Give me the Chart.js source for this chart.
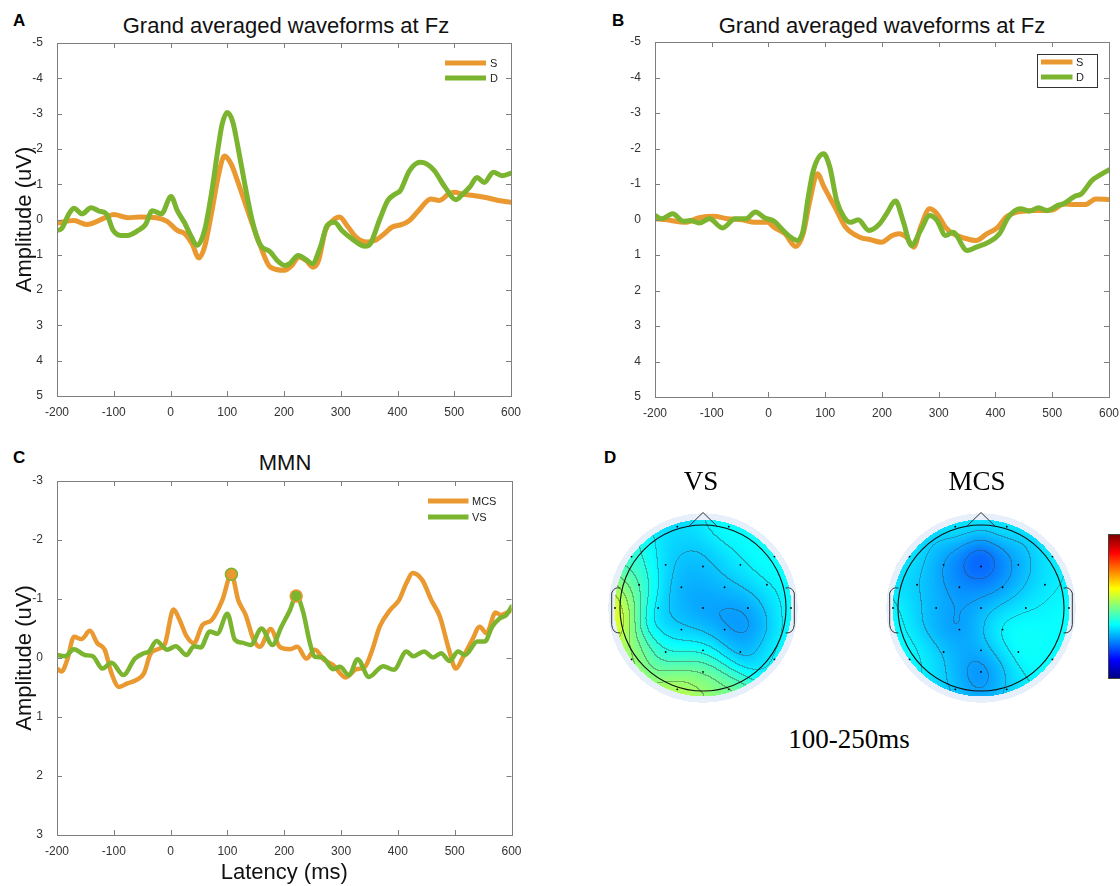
<!DOCTYPE html>
<html><head><meta charset="utf-8">
<script src="https://cdn.jsdelivr.net/npm/chart.js@4.4.1/dist/chart.umd.min.js"></script>
<style>
body{margin:0;background:#fff;width:1120px;height:886px;overflow:hidden;position:relative;font-family:"Liberation Sans",Arial,sans-serif;}
.pane{position:absolute;}
.lbl{position:absolute;font-weight:bold;font-size:17px;line-height:20px;color:#000;}
.ttl{position:absolute;font-size:22px;line-height:26px;color:#111;transform:translateX(-50%);white-space:nowrap;}
.serif{position:absolute;font-family:"Liberation Serif","Times New Roman",serif;font-size:27px;line-height:30px;color:#000;transform:translateX(-50%);white-space:nowrap;}
#cbar{position:absolute;left:1108px;top:534px;width:14px;height:143px;border:1px solid #444;
background:linear-gradient(to bottom,#800000 0%,#ff0000 12.5%,#ffff00 37.5%,#00ffff 62.5%,#0000ff 87.5%,#000080 100%);}
</style></head>
<body>
<div class="lbl" style="left:13px;top:11px">A</div>
<div class="lbl" style="left:612px;top:11px">B</div>
<div class="lbl" style="left:13px;top:448px">C</div>
<div class="lbl" style="left:604px;top:448px">D</div>
<div class="ttl" style="left:286px;top:13px">Grand averaged waveforms at Fz</div>
<div class="ttl" style="left:882px;top:13px">Grand averaged waveforms at Fz</div>
<div class="ttl" style="left:285px;top:450px">MMN</div>
<div class="pane" style="left:0;top:0"><canvas id="cA" width="560" height="430"></canvas></div>
<div class="pane" style="left:560px;top:0"><canvas id="cB" width="560" height="430"></canvas></div>
<div class="pane" style="left:0;top:430px"><canvas id="cC" width="560" height="456"></canvas></div>
<div class="pane" style="left:588px;top:493px"><canvas id="dVS" width="230" height="230"></canvas></div>
<div class="pane" style="left:866px;top:493px"><canvas id="dMCS" width="230" height="230"></canvas></div>
<div class="serif" style="left:701px;top:466px">VS</div>
<div class="serif" style="left:977px;top:466px">MCS</div>
<div class="serif" style="left:849px;top:724px">100-250ms</div>
<div id="cbar"></div>
<script>
// ---------- data ----------
const xTickVals = [-200,-100,0,100,200,300,400,500,600];
const yTickValsAB = [-5,-4,-3,-2,-1,0,1,2,3,4,5];
const yTickValsC = [-3,-2,-1,0,1,2,3];

// Panel A
const aTimeS = [-200,-170,-148,-113,-100,-75,-54,-25,-6,12,25,38,50,60,72,85,95,107,119,132,144,157,176,201,214,226,239,251,261,273,286,298,311,327,346,361,377,390,408,421,437,459,474,490,500,515,534,553,578,600];
const aS = [0.1,0.03,0.14,-0.07,-0.14,-0.05,-0.07,-0.05,0.05,0.31,0.4,0.69,1.09,0.78,-0.16,-1.29,-1.8,-1.57,-1.05,-0.44,0.12,0.69,1.35,1.44,1.3,1.06,1.16,1.35,1.16,0.31,0.03,-0.07,0.17,0.5,0.64,0.59,0.4,0.22,0.14,0.03,-0.25,-0.58,-0.54,-0.72,-0.77,-0.72,-0.68,-0.63,-0.54,-0.49];
const aTimeD = [-200,-192,-179,-170,-156,-140,-126,-113,-101,-88,-76,-57,-44,-32,-16,1,12,25,34,47,60,72,85,91,100,110,119,132,144,157,176,188,201,210,225,239,250,264,276,289,302,320,343,352,368,383,396,405,421,440,452,465,484,503,515,528,540,553,569,584,600];
const aD = [0.31,0.26,-0.16,-0.32,-0.16,-0.33,-0.24,-0.16,0.31,0.45,0.45,0.31,0.14,-0.25,-0.16,-0.65,-0.25,0.1,0.4,0.73,0.31,-0.72,-2.14,-2.7,-3.03,-2.75,-2.04,-0.91,0.03,0.69,0.92,1.16,1.3,1.25,1.02,1.14,1.25,0.78,0.17,0.08,0.31,0.55,0.76,0.69,0.03,-0.54,-0.72,-0.82,-1.38,-1.62,-1.57,-1.38,-0.91,-0.56,-0.72,-0.93,-1.19,-1.05,-1.34,-1.24,-1.31];

// Panel B
const bTimeS = [-200,-179,-147,-122,-97,-72,-46,-24,-2,10,29,48,61,73,86,98,117,136,161,180,199,218,230,243,256,268,284,297,312,325,344,366,385,404,419,438,463,501,520,539,558,577,600];
const bS = [-0.02,0.01,0.08,-0.05,-0.09,-0.02,0.01,0.08,0.08,0.22,0.4,0.76,0.4,-0.54,-1.29,-0.91,-0.35,0.22,0.5,0.57,0.64,0.45,0.4,0.5,0.78,0.22,-0.3,-0.16,0.22,0.4,0.52,0.59,0.4,0.22,-0.07,-0.21,-0.25,-0.27,-0.44,-0.42,-0.42,-0.58,-0.56];
const bTimeD = [-200,-188,-169,-150,-138,-122,-104,-81,-59,-40,-23,-6,10,26,39,51,61,70,79,97,108,120,133,145,158,177,196,208,224,237,252,268,284,297,312,325,350,366,388,407,423,444,460,476,491,510,520,539,551,570,583,600];
const bD = [-0.11,-0.02,-0.16,0.05,0.03,0.1,-0.02,0.24,-0.02,-0.02,-0.21,-0.04,0.05,0.31,0.5,0.59,0.31,-0.63,-1.38,-1.85,-1.48,-0.54,-0.07,0.08,0.01,0.31,0.12,-0.16,-0.52,0.03,0.73,0.31,-0.11,0.03,0.45,0.36,0.87,0.78,0.64,0.4,-0.07,-0.3,-0.24,-0.33,-0.25,-0.4,-0.44,-0.65,-0.72,-1.1,-1.24,-1.4];

// Panel C (MMN)
const cTimeM = [-200,-192,-182,-170,-157,-142,-129,-116,-104,-91,-76,-60,-47,-35,-22,-10,5,16,28,41,56,72,91,107,119,132,146,157,176,192,210,223,239,254,270,286,308,327,342,355,368,387,402,415,426,443,459,474,490,502,515,531,544,556,572,581,600];
const cMCS = [0.18,0.23,0.03,-0.36,-0.32,-0.46,-0.25,-0.14,0.26,0.49,0.43,0.37,0.26,-0.08,-0.15,-0.24,-0.82,-0.64,-0.37,-0.25,-0.56,-0.64,-0.98,-1.42,-0.98,-0.73,-0.31,-0.19,-0.49,-0.19,-0.15,-0.19,0.01,-0.14,0.03,0.12,0.33,0.19,0.15,-0.14,-0.53,-0.82,-0.98,-1.27,-1.44,-1.32,-0.98,-0.7,-0.14,0.18,-0.02,-0.31,-0.53,-0.42,-0.77,-0.73,-0.81];
const cTimeV = [-200,-186,-170,-151,-137,-120,-104,-83,-63,-47,-38,-25,-6,9,28,41,53,69,82,100,113,126,141,160,179,195,210,221,233,245,254,267,286,298,314,329,349,374,393,415,427,446,462,476,491,506,518,540,553,566,579,591,600];
const cVS = [-0.05,-0.03,-0.15,-0.05,-0.03,0.18,0.08,0.29,0.01,-0.08,-0.11,-0.29,-0.14,-0.2,-0.05,-0.2,-0.18,-0.45,-0.41,-0.75,-0.31,-0.26,-0.22,-0.5,-0.22,-0.53,-0.81,-1.05,-0.79,-0.26,-0.02,-0.01,0.19,0.15,0.29,0.02,0.32,0.14,0.2,-0.11,-0.03,-0.11,-0.01,-0.08,0.05,-0.11,-0.05,-0.28,-0.28,-0.53,-0.67,-0.73,-0.87];
const peakT = [107,221];
const peakV = [-1.42,-1.05];

// Panel D (topographies, 100-250 ms; values as colormap fraction 0..1)
const elecNames = ['Fp1','Fp2','F7','F3','Fz','F4','F8','FT7','FC3','FC4','FT8','T7','C3','Cz','C4','T8','CP3','CP4','P7','P3','Pz','P4','P8','O1','Oz','O2'];
const elecX = [-0.31,0.31,-0.86,-0.45,0,0.45,0.86,-0.77,-0.26,0.26,0.77,-1.06,-0.54,0,0.54,1.06,-0.26,0.26,-0.86,-0.45,0,0.45,0.86,-0.31,0,0.31];
const elecY = [0.98,0.98,0.62,0.52,0.5,0.52,0.62,0.28,0.25,0.25,0.28,0,0,0,0,0,-0.26,-0.26,-0.62,-0.53,-0.51,-0.53,-0.62,-0.98,-0.77,-0.98];
const vsVals = [0.34,0.38,0.42,0.32,0.31,0.37,0.39,0.48,0.28,0.30,0.37,0.64,0.32,0.27,0.26,0.38,0.31,0.26,0.55,0.40,0.38,0.27,0.38,0.57,0.53,0.50];
const mcsVals = [0.36,0.36,0.37,0.27,0.16,0.28,0.37,0.32,0.26,0.27,0.35,0.38,0.31,0.31,0.37,0.38,0.23,0.40,0.38,0.34,0.32,0.39,0.37,0.34,0.19,0.35];

// ---------- styling ----------
const ORANGE = '#E9992F';
const GREEN = '#7BB42F';
const FONT = '"Liberation Sans", Arial, sans-serif';
const AXIS = '#7f7f7f';

function pts(t, v){ return t.map((x,i)=>({x:x, y:v[i]})); }

const boxPlugin = {
  id: 'mbox',
  afterDatasetsDraw(chart, args, opts){
    const {ctx, chartArea:a, scales:{x, y}} = chart;
    ctx.save();
    ctx.strokeStyle = AXIS; ctx.lineWidth = 1;
    ctx.strokeRect(Math.round(a.left)+0.5, Math.round(a.top)+0.5, Math.round(a.right-a.left), Math.round(a.bottom-a.top));
    const L = 5;
    ctx.beginPath();
    x.ticks.forEach(t=>{ const p = Math.round(x.getPixelForValue(t.value))+0.5;
      ctx.moveTo(p,a.bottom); ctx.lineTo(p,a.bottom-L); ctx.moveTo(p,a.top); ctx.lineTo(p,a.top+L); });
    y.ticks.forEach(t=>{ const p = Math.round(y.getPixelForValue(t.value))+0.5;
      ctx.moveTo(a.left,p); ctx.lineTo(a.left+L,p); ctx.moveTo(a.right,p); ctx.lineTo(a.right-L,p); });
    ctx.stroke();
    const lg = opts && opts.legend;
    if (lg){
      if (lg.box){
        ctx.fillStyle = '#fff'; ctx.strokeStyle = '#333'; ctx.lineWidth = 1;
        const bl = Math.round(a.right-lg.box[0])+0.5, br = Math.round(a.right-lg.box[1])+0.5;
        const bt = Math.round(a.top+lg.box[2])+0.5, bb = Math.round(a.top+lg.box[3])+0.5;
        ctx.fillRect(bl,bt,br-bl,bb-bt); ctx.strokeRect(bl,bt,br-bl,bb-bt);
      }
      ctx.font = '11px ' + FONT; ctx.textBaseline = 'middle'; ctx.textAlign = 'left';
      [0,1].forEach(i=>{
        const d = chart.data.datasets[i];
        const yy = a.top + lg.y0 + i*lg.dy;
        ctx.strokeStyle = d.borderColor; ctx.lineWidth = lg.lw; ctx.lineCap = 'butt';
        ctx.beginPath(); ctx.moveTo(a.right-lg.x1, yy); ctx.lineTo(a.right-lg.x2, yy); ctx.stroke();
        ctx.fillStyle = '#222'; ctx.fillText(d.label, a.right-lg.tx, yy+1);
      });
    }
    ctx.restore();
  }
};

function lineDs(label, t, v, color, width, order){
  return {label:label, data:pts(t,v), borderColor:color, backgroundColor:color, borderWidth:width,
    pointRadius:0, cubicInterpolationMode:'monotone', fill:false, order:order, borderCapStyle:'round', borderJoinStyle:'round'};
}

function wave(id, datasets, yTicks, o){
  return new Chart(document.getElementById(id), {
    type:'line',
    data:{datasets:datasets},
    options:{
      responsive:false, animation:false, events:[],
      layout:{padding:o.pad},
      plugins:{legend:{display:false}, tooltip:{enabled:false}, title:{display:false}, mbox:{legend:o.legend}},
      scales:{
        x:{type:'linear', min:-200, max:600,
           afterBuildTicks:s=>{ s.ticks = xTickVals.map(v=>({value:v})); },
           afterFit:s=>{ s.height = o.xh; },
           grid:{display:false}, border:{display:false},
           ticks:{font:{family:FONT,size:12}, color:'#333', padding:1, maxRotation:0, autoSkip:false},
           title:{display:!!o.xTitle, text:o.xTitle||'', font:{family:FONT,size:22}, color:'#111', padding:{top:0,bottom:0}}},
        y:{type:'linear', min:yTicks[0], max:yTicks[yTicks.length-1], reverse:true,
           afterBuildTicks:s=>{ s.ticks = yTicks.map(v=>({value:v})); },
           afterFit:s=>{ s.width = 57; },
           grid:{display:false}, border:{display:false},
           ticks:{font:{family:FONT,size:12}, color:'#333', padding:6, autoSkip:false},
           title:{display:!!o.yTitle, text:o.yTitle||'', font:{family:FONT,size:22}, color:'#111', padding:{top:12,bottom:0}}}
      }
    },
    plugins:[boxPlugin]
  });
}

wave('cA', [lineDs('S', aTimeS, aS, ORANGE, 5, 2), lineDs('D', aTimeD, aD, GREEN, 5, 1)], yTickValsAB,
  {pad:{top:43,right:49,left:0,bottom:0}, xh:34, yTitle:'Amplitude (uV)',
   legend:{x1:66, x2:25, y0:20, dy:15, tx:21, lw:5}});
wave('cB', [lineDs('S', bTimeS, bS, ORANGE, 5, 2), lineDs('D', bTimeD, bD, GREEN, 5, 1)], yTickValsAB,
  {pad:{top:42,right:11,left:38,bottom:0}, xh:33,
   legend:{x1:68, x2:36.5, y0:20, dy:15, tx:33, lw:5, box:[72,12,12,45]}});
const peakDs = {label:'peaks', data:pts(peakT, peakV), showLine:false, pointRadius:6,
  pointBackgroundColor:[ORANGE, GREEN], pointBorderColor:[GREEN, ORANGE], pointBorderWidth:1.5, order:0};
wave('cC', [lineDs('MCS', cTimeM, cMCS, ORANGE, 4.5, 2), lineDs('VS', cTimeV, cVS, GREEN, 4.5, 1), peakDs], yTickValsC,
  {pad:{top:51,right:48.5,left:0,bottom:0}, xh:51, yTitle:'Amplitude (uV)', xTitle:'Latency (ms)',
   legend:{x1:83.5, x2:43, y0:20, dy:16, tx:39.5, lw:5}});

// ---------- topography ----------
function jet(t){
  const c = v=>Math.max(0,Math.min(1,v));
  return [c(Math.min(4*t-1.5,-4*t+4.5)), c(Math.min(4*t-0.5,-4*t+3.5)), c(Math.min(4*t+0.5,-4*t+2.5))];
}
const topoPlugin = {
  id:'topo',
  beforeDatasetsDraw(chart, args, opts){
    const {ctx, scales:{x, y}} = chart;
    const W = chart.width, H = chart.height;
    const vals = opts.vals;
    const img = ctx.createImageData(W, H);
    const field = new Float32Array(W*H).fill(NaN);
    const R1 = 1.065, R2 = 1.14, s2 = 2*0.23*0.23;
    for (let py=0; py<H; py++){
      const uy = y.getValueForPixel(py+0.5);
      for (let px=0; px<W; px++){
        const ux = x.getValueForPixel(px+0.5);
        const r = Math.hypot(ux,uy);
        if (r > R1) continue;
        let sw=0, sv=0;
        for (let k=0;k<elecX.length;k++){
          const dx=ux-elecX[k], dy=uy-elecY[k];
          const w=Math.exp(-(dx*dx+dy*dy)/s2)+1e-12;
          sw+=w; sv+=w*vals[k];
        }
        field[py*W+px] = sv/sw;
      }
    }
    const step = 0.04;
    for (let py=0; py<H; py++){
      const uy = y.getValueForPixel(py+0.5);
      for (let px=0; px<W; px++){
        const i = py*W+px, o = i*4;
        const ux = x.getValueForPixel(px+0.5);
        const r = Math.hypot(ux,uy);
        const v = field[i];
        if (!isNaN(v)){
          const c = jet(v);
          let R = c[0]*255*0.97+0.03*255, G = c[1]*255*0.97+0.03*255, B = c[2]*255*0.97+0.03*255;
          const lv = Math.floor(v/step);
          const vr = px+1<W ? field[i+1] : NaN, vd = py+1<H ? field[i+W] : NaN;
          if ((!isNaN(vr) && Math.floor(vr/step)!==lv) || (!isNaN(vd) && Math.floor(vd/step)!==lv)){
            R = R*0.6+25; G = G*0.6+25; B = B*0.6+25;
          }
          img.data[o]=R; img.data[o+1]=G; img.data[o+2]=B; img.data[o+3]=255;
        } else if (r <= R2){
          img.data[o]=230; img.data[o+1]=239; img.data[o+2]=250; img.data[o+3]=255;
        }
      }
    }
    ctx.putImageData(img, 0, 0);
    const cx = x.getPixelForValue(0), cy = y.getPixelForValue(0);
    const P = (u,v)=>[x.getPixelForValue(u), y.getPixelForValue(v)];
    ctx.save();
    ctx.strokeStyle = '#111'; ctx.lineWidth = 1.1;
    ctx.beginPath(); ctx.arc(cx, cy, x.getPixelForValue(1)-cx, 0, Math.PI*2); ctx.stroke();
    ctx.strokeStyle = '#333'; ctx.lineWidth = 1;
    ctx.beginPath();
    let p = P(-0.17,0.985); ctx.moveTo(p[0],p[1]);
    p = P(0,1.15); ctx.lineTo(p[0],p[1]);
    p = P(0.17,0.985); ctx.lineTo(p[0],p[1]);
    ctx.stroke();
    [-1,1].forEach(sd=>{
      ctx.beginPath();
      let a = P(sd*0.995,0.24); ctx.moveTo(a[0],a[1]);
      let b = P(sd*1.07,0.26), c2 = P(sd*1.1,0.18); ctx.quadraticCurveTo(b[0],b[1],c2[0],c2[1]);
      let d = P(sd*1.1,-0.2); ctx.lineTo(d[0],d[1]);
      let e = P(sd*1.09,-0.31), f = P(sd*0.995,-0.3); ctx.quadraticCurveTo(e[0],e[1],f[0],f[1]);
      ctx.stroke();
    });
    ctx.restore();
  }
};
function topo(id, vals){
  return new Chart(document.getElementById(id), {
    type:'scatter',
    data:{datasets:[{label:'electrodes', data:pts(elecX, elecY), pointRadius:0.9, pointBackgroundColor:'#000', pointBorderWidth:0}]},
    options:{responsive:false, animation:false, events:[], layout:{padding:0},
      plugins:{legend:{display:false}, tooltip:{enabled:false}, topo:{vals:vals}},
      scales:{x:{display:false, min:-1.337, max:1.337}, y:{display:false, min:-1.337, max:1.337}}},
    plugins:[topoPlugin]
  });
}
topo('dVS', vsVals);
topo('dMCS', mcsVals);
</script>
</body></html>
